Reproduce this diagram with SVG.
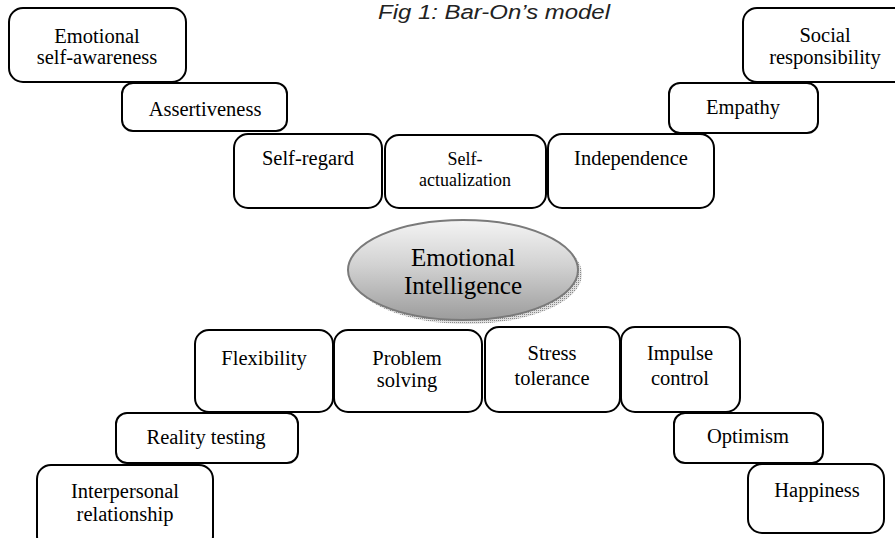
<svg xmlns="http://www.w3.org/2000/svg" width="895" height="538" viewBox="0 0 895 538">
<defs>
<style>
.box{fill:#fff;stroke:#000;stroke-width:2}
.t{font-family:"Liberation Serif","Times New Roman",serif;font-size:20.5px;fill:#000;text-anchor:middle}
.ts{font-size:18px}
.title{font-family:"Liberation Sans",Arial,sans-serif;font-style:italic;font-size:20px;fill:#222}
.et{font-family:"Liberation Serif","Times New Roman",serif;font-size:25px;fill:#000;text-anchor:middle}
</style>
<linearGradient id="eg" x1="0" y1="0" x2="0" y2="1">
<stop offset="0" stop-color="#f4f4f4"/>
<stop offset="0.45" stop-color="#d2d2d2"/>
<stop offset="1" stop-color="#9c9c9c"/>
</linearGradient>
<pattern id="dots" width="2" height="2" patternUnits="userSpaceOnUse">
<rect width="2" height="2" fill="#e0e0e0"/>
<rect width="1" height="1" fill="#8a8a8a"/>
</pattern>
</defs>
<rect width="895" height="538" fill="#fff"/>
<text class="title" x="378" y="19" textLength="232" lengthAdjust="spacingAndGlyphs">Fig 1: Bar-On’s model</text>

<g id="emotional-self-awareness"><rect class="box" x="9" y="8" width="177" height="74" rx="14"/><text class="t" x="97" y="43">Emotional</text><text class="t" x="97" y="64">self-awareness</text></g>
<g id="assertiveness"><rect class="box" x="122" y="83" width="165" height="48" rx="11"/><text class="t" x="205" y="116">Assertiveness</text></g>
<g id="self-regard"><rect class="box" x="234" y="134" width="148" height="74" rx="14"/><text class="t" x="308" y="165">Self-regard</text></g>
<g id="self-actualization"><rect class="box" x="385" y="135" width="161" height="73" rx="14"/><text class="t ts" x="465" y="165">Self-</text><text class="t ts" x="465" y="186">actualization</text></g>
<g id="independence"><rect class="box" x="548" y="134" width="166" height="74" rx="14"/><text class="t" x="631" y="165">Independence</text></g>
<g id="empathy"><rect class="box" x="669" y="83" width="149" height="50" rx="11"/><text class="t" x="743" y="114">Empathy</text></g>
<g id="social-responsibility"><rect class="box" x="743" y="8" width="170" height="74" rx="14"/><text class="t" x="825" y="42">Social</text><text class="t" x="825" y="64">responsibility</text></g>

<g id="emotional-intelligence">
<ellipse cx="467" cy="274" rx="115" ry="50" fill="url(#dots)"/>
<ellipse cx="463" cy="270" rx="115" ry="50" fill="url(#eg)" stroke="#7a7a7a" stroke-width="2"/>
<text class="et" x="463" y="266">Emotional</text><text class="et" x="463" y="294">Intelligence</text>
</g>

<g id="flexibility"><rect class="box" x="195" y="330" width="138" height="82" rx="14"/><text class="t" x="264" y="365">Flexibility</text></g>
<g id="problem-solving"><rect class="box" x="334" y="330" width="148" height="82" rx="14"/><text class="t" x="407" y="365">Problem</text><text class="t" x="407" y="387">solving</text></g>
<g id="stress-tolerance"><rect class="box" x="485" y="327" width="135" height="85" rx="14"/><text class="t" x="552" y="360">Stress</text><text class="t" x="552" y="385">tolerance</text></g>
<g id="impulse-control"><rect class="box" x="621" y="327" width="119" height="85" rx="14"/><text class="t" x="680" y="360">Impulse</text><text class="t" x="680" y="385">control</text></g>
<g id="optimism"><rect class="box" x="674" y="413" width="149" height="50" rx="11"/><text class="t" x="748" y="443">Optimism</text></g>
<g id="happiness"><rect class="box" x="748" y="464" width="136" height="69" rx="14"/><text class="t" x="817" y="497">Happiness</text></g>
<g id="reality-testing"><rect class="box" x="116" y="413" width="182" height="50" rx="11"/><text class="t" x="206" y="444">Reality testing</text></g>
<g id="interpersonal-relationship"><rect class="box" x="37" y="465" width="176" height="85" rx="14"/><text class="t" x="125" y="498">Interpersonal</text><text class="t" x="125" y="521">relationship</text></g>
</svg>
